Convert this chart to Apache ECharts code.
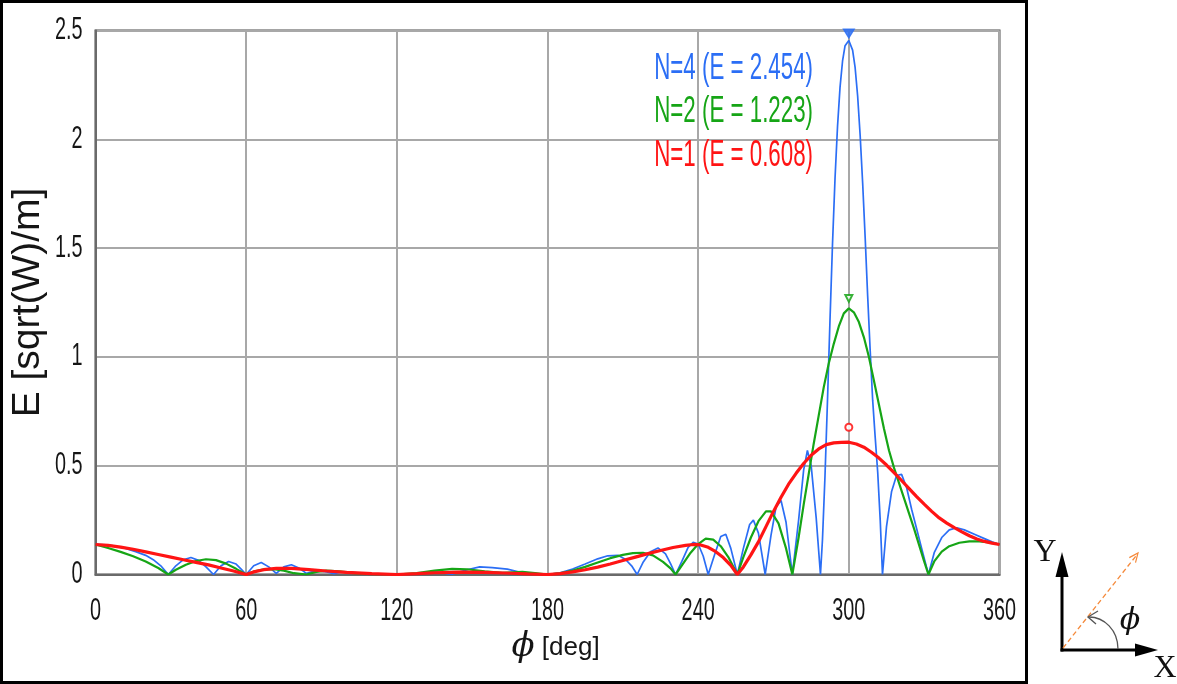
<!DOCTYPE html>
<html>
<head>
<meta charset="utf-8">
<script src="https://cdn.jsdelivr.net/npm/echarts@6/dist/echarts.min.js"></script>
<style>
  html, body { margin: 0; padding: 0; background: #fff; }
  #chart { width: 1177px; height: 684px; }
</style>
</head>
<body>
<div id="chart"></div>
<script>
// Axis ticks
const phiTicks = [0, 60, 120, 180, 240, 300, 360];
const eTicks = [0, 0.5, 1, 1.5, 2, 2.5];

// Series labels and peak field strength at the steering angle
const seriesNames = ['N=4', 'N=2', 'N=1'];
const peakPhi = 300;
const peakE = [2.454, 1.223, 0.608];

// |E| versus azimuth phi [deg], four-element array
const n4 = [
  [0,0.138],[4,0.136],[8,0.130],[12,0.120],[16,0.105],[20,0.088],[23,0.068],[26,0.040],[29,0],
  [32,0.040],[35,0.068],[38,0.078],[41,0.065],[44,0.035],[47,0],[50,0.040],[53,0.060],[56,0.048],
  [58,0.025],[60,0],[63,0.040],[66,0.055],[69,0.035],[72,0.005],[75,0.035],[78,0.045],[81,0.030],
  [84,0.005],[88,0.018],[92,0.012],[95,0.004],[98,0.012],[102,0.010],[108,0.004],[115,0.002],[120,0],
  [128,0.004],[135,0.012],[142,0.002],[148,0.022],[153,0.035],[158,0.032],[164,0.025],[170,0.008],
  [175,0.004],[180,0],[185,0.008],[190,0.025],[195,0.048],[200,0.072],[204,0.086],[208,0.088],
  [211,0.070],[213.5,0.040],[215.7,0],[218,0.055],[221,0.105],[224,0.122],[227,0.095],[229,0.050],
  [231,0],[233.5,0.060],[236,0.125],[238,0.148],[240,0.140],[242,0.085],[244,0],[246.5,0.090],
  [249,0.175],[251,0.185],[253,0.120],[255.6,0],[258,0.120],[260.5,0.230],[262,0.250],[264,0.190],
  [266.7,0],[269,0.180],[271,0.310],[273,0.340],[275,0.240],[277.5,0],[280,0.250],[282,0.480],
  [283.5,0.570],[285,0.500],[287,0.260],[288.7,0],[289.5,0.16],[290.5,0.45],[291.5,0.80],[292.5,1.17],
  [293.5,1.52],[294.5,1.82],[295.5,2.06],[296.5,2.24],[297.5,2.36],[298.5,2.43],[300,2.454],
  [301.5,2.41],[302.5,2.33],[303.5,2.20],[304.5,2.02],[305.5,1.80],[306.5,1.55],[307.5,1.28],
  [308.5,1.03],[309.5,0.80],[310.5,0.63],[311.5,0.47],[312.5,0.25],[313.4,0],[315,0.22],[317,0.38],
  [319,0.455],[321,0.46],[323,0.40],[325,0.30],[327,0.21],[329,0.12],[331.7,0],[334,0.10],[337,0.17],
  [340,0.205],[343,0.215],[346,0.205],[350,0.185],[354,0.165],[357,0.150],[360,0.138]
];

// two-element array
const n2 = [
  [0,0.138],[5,0.122],[10,0.104],[15,0.084],[20,0.060],[25,0.030],[29,0],[32,0.022],[36,0.045],
  [40,0.062],[44,0.070],[48,0.066],[52,0.050],[56,0.026],[60,0],[63,0.014],[67,0.024],[71,0.025],
  [75,0.018],[79,0.006],[84,0],[88,0.012],[92,0.018],[97,0.014],[103,0.006],[110,0.002],[120,0],
  [128,0.006],[135,0.018],[142,0.026],[148,0.024],[155,0.014],[162,0.008],[170,0.012],[175,0.006],
  [180,0],[185,0.005],[190,0.018],[195,0.035],[200,0.055],[205,0.075],[210,0.090],[214,0.098],
  [218,0.100],[222,0.088],[226,0.058],[229,0.028],[231,0],[234,0.05],[237,0.10],[240,0.14],
  [243,0.165],[246,0.16],[249,0.13],[252,0.08],[255.6,0],[258,0.08],[261,0.17],[264,0.245],
  [267,0.29],[269,0.29],[272,0.235],[275,0.12],[277.5,0],[280,0.17],[282,0.32],[284,0.46],[286,0.60],
  [288,0.73],[290,0.86],[292,0.97],[294,1.06],[296,1.14],[298,1.20],[300,1.223],[302,1.205],
  [304,1.16],[306,1.09],[308,1.00],[310,0.89],[312,0.78],[314,0.67],[316,0.57],[318,0.49],[320,0.42],
  [322,0.35],[324,0.28],[326,0.21],[328,0.135],[330,0.06],[331.7,0],[334,0.06],[337,0.105],
  [340,0.130],[344,0.146],[348,0.152],[352,0.152],[356,0.148],[360,0.138]
];

// single element
const n1 = [
  [0,0.138],[5,0.134],[10,0.126],[15,0.116],[20,0.104],[25,0.092],[30,0.080],[35,0.068],[40,0.056],
  [45,0.044],[50,0.030],[55,0.016],[60,0],[63,0.012],[67,0.022],[72,0.028],[78,0.028],[85,0.022],
  [92,0.016],[100,0.010],[110,0.004],[120,0],[128,0.004],[135,0.008],[145,0.011],[155,0.010],
  [163,0.007],[172,0.003],[180,0],[185,0.004],[190,0.012],[195,0.022],[200,0.034],[205,0.048],
  [210,0.064],[215,0.080],[220,0.096],[225,0.110],[230,0.124],[235,0.134],[238,0.138],[241,0.136],
  [244,0.125],[247,0.105],[250,0.078],[253,0.042],[255.6,0],[258,0.035],[261,0.090],[264,0.150],
  [267,0.220],[270,0.290],[273,0.355],[276,0.415],[279,0.465],[282,0.510],[285,0.548],[288,0.577],
  [291,0.597],[294,0.605],[297,0.607],[300,0.608],[303,0.600],[306,0.585],[309,0.562],[312,0.535],
  [315,0.503],[318,0.468],[321,0.432],[324,0.395],[327,0.358],[330,0.323],[333,0.290],[336,0.260],
  [339,0.236],[342,0.215],[345,0.196],[348,0.178],[351,0.163],[354,0.152],[357,0.144],[360,0.138]
];

const colors = ['#2b6ef5', '#16a516', '#ff1414'];
const curves = [n4, n2, n1];
const widths = [1.7, 2.2, 3.2];
const peakSymbols = [
  { symbol: 'triangle', size: [11, 9], rotate: 180, offset: [0, -7] },
  { symbol: 'emptyTriangle', size: [7, 7], rotate: 180, offset: [0, -10] },
  { symbol: 'emptyCircle', size: 7, rotate: 0, offset: [0, -15] }
];

const sansFont = '"Liberation Sans", Arial, sans-serif';
// tick numbers use a tall, condensed look
const tickStyle = { fontSize: 31, fontFamily: sansFont, fill: '#151515' };
const tickSquash = 0.64;

const chart = echarts.init(document.getElementById('chart'), null, { renderer: 'canvas' });

const series = [];
curves.forEach((d, i) => {
  series.push({
    name: seriesNames[i],
    type: 'line',
    data: d,
    showSymbol: false,
    symbol: 'none',
    lineStyle: { color: colors[i], width: widths[i] },
    z: 3 + i
  });
});
peakE.forEach((v, i) => {
  const s = peakSymbols[i];
  series.push({
    type: 'scatter',
    data: [[peakPhi, v]],
    symbol: s.symbol,
    symbolSize: s.size,
    symbolRotate: s.rotate,
    symbolOffset: s.offset,
    itemStyle: { color: colors[i], borderColor: colors[i], borderWidth: 1.2, opacity: 0.85 },
    z: 6
  });
});

const legendText = seriesNames.map((n, i) => ({
  type: 'text',
  x: 813,
  y: [69, 112, 156][i],
  scaleX: 0.62,
  style: {
    text: n + ' (E = ' + peakE[i].toFixed(3) + ')',
    fill: colors[i],
    fontSize: 36,
    fontFamily: sansFont,
    align: 'right',
    verticalAlign: 'middle'
  },
  z: 10
}));

const orange = '#f5893a';
const inset = [
  { type: 'line', shape: { x1: 1062, y1: 651.5, x2: 1062, y2: 574 }, style: { stroke: '#000', lineWidth: 3 } },
  { type: 'polygon', shape: { points: [[1062, 552], [1055.5, 577], [1068.5, 577]] }, style: { fill: '#000' } },
  { type: 'line', shape: { x1: 1060.5, y1: 650, x2: 1138, y2: 650 }, style: { stroke: '#000', lineWidth: 3 } },
  { type: 'polygon', shape: { points: [[1158, 650], [1135, 643.5], [1135, 656.5]] }, style: { fill: '#000' } },
  { type: 'line', shape: { x1: 1063, y1: 648, x2: 1137.5, y2: 554 }, style: { stroke: orange, lineWidth: 1.3, lineDash: [5, 3] } },
  { type: 'polyline', shape: { points: [[1129.3, 557.6], [1138, 553], [1135.5, 562.6]] }, style: { stroke: orange, lineWidth: 1.2, fill: null } },
  { type: 'bezierCurve', shape: { x1: 1118, y1: 649, cpx1: 1118, cpy1: 630, cpx2: 1104, cpy2: 617, x2: 1089, y2: 617 }, style: { stroke: '#555', lineWidth: 1.3, fill: null } },
  { type: 'polyline', shape: { points: [[1098, 611], [1088, 617], [1096, 624]] }, style: { stroke: '#555', lineWidth: 1.3, fill: null } },
  { type: 'text', x: 1130, y: 621, style: { text: 'ϕ', fontSize: 30, fontStyle: 'italic', fontFamily: '"DejaVu Serif", serif', fill: '#111', align: 'center', verticalAlign: 'middle' } },
  { type: 'text', x: 1045, y: 553, style: { text: 'Y', fontSize: 32, fontFamily: '"Liberation Serif", serif', fill: '#111', align: 'center', verticalAlign: 'middle' } },
  { type: 'text', x: 1165, y: 669, style: { text: 'X', fontSize: 32, fontFamily: '"Liberation Serif", serif', fill: '#111', align: 'center', verticalAlign: 'middle' } },
  // outer frame around the plot panel
  { type: 'rect', shape: { x: 1.5, y: 1.5, width: 1025, height: 681 }, style: { stroke: '#000', lineWidth: 3, fill: null }, z: 20 }
];

chart.setOption({
  animation: false,
  backgroundColor: '#fff',
  grid: {
    left: 95.5, right: 177.5, top: 30.5, bottom: 109.5,
    containLabel: false,
    outerBoundsMode: 'none',
    show: true, borderColor: '#4a4a4a', borderWidth: 2, backgroundColor: '#fff'
  },
  xAxis: {
    type: 'value',
    min: phiTicks[0],
    max: phiTicks[phiTicks.length - 1],
    interval: phiTicks[1] - phiTicks[0],
    axisLine: { show: true, lineStyle: { color: '#6a6a6a', width: 2 } },
    axisTick: { show: false },
    splitLine: { show: true, lineStyle: { color: '#a8a8a8', width: 2 } },
    axisLabel: { show: false },
    name: '{phi|ϕ}{u| [deg]}',
    nameLocation: 'middle',
    nameGap: 56,
    nameMoveOverlap: false,
    nameTextStyle: {
      fontSize: 26, fontFamily: sansFont, color: '#151515',
      padding: [0, 0, 0, 16],
      rich: {
        phi: { fontSize: 34, fontStyle: 'italic', fontFamily: '"DejaVu Serif", serif', color: '#151515' },
        u: { fontSize: 26, fontFamily: sansFont, color: '#151515' }
      }
    }
  },
  yAxis: {
    type: 'value',
    min: eTicks[0],
    max: eTicks[eTicks.length - 1],
    interval: eTicks[1] - eTicks[0],
    axisLine: { show: true, lineStyle: { color: '#6a6a6a', width: 2 } },
    axisTick: { show: false },
    splitLine: { show: true, lineStyle: { color: '#a8a8a8', width: 2 } },
    axisLabel: { show: false },
    name: 'E [sqrt(W)/m]',
    nameLocation: 'middle',
    nameGap: 48,
    nameMoveOverlap: false,
    nameTextStyle: { fontSize: 39, fontFamily: sansFont, color: '#151515' }
  },
  series: series
});

// Tick numbers placed through the axis scales, drawn condensed
const tickText = [];
phiTicks.forEach(v => {
  const p = chart.convertToPixel({ gridIndex: 0 }, [v, eTicks[0]]);
  tickText.push({
    type: 'text', x: p[0], y: p[1] + 21, scaleX: tickSquash,
    style: Object.assign({ text: String(v), align: 'center', verticalAlign: 'top' }, tickStyle)
  });
});
eTicks.forEach(v => {
  const p = chart.convertToPixel({ gridIndex: 0 }, [phiTicks[0], v]);
  tickText.push({
    type: 'text', x: p[0] - 13, y: p[1], scaleX: tickSquash,
    style: Object.assign({ text: String(v), align: 'right', verticalAlign: 'middle' }, tickStyle)
  });
});

chart.setOption({ graphic: { elements: tickText.concat(legendText, inset) } });
</script>
</body>
</html>
